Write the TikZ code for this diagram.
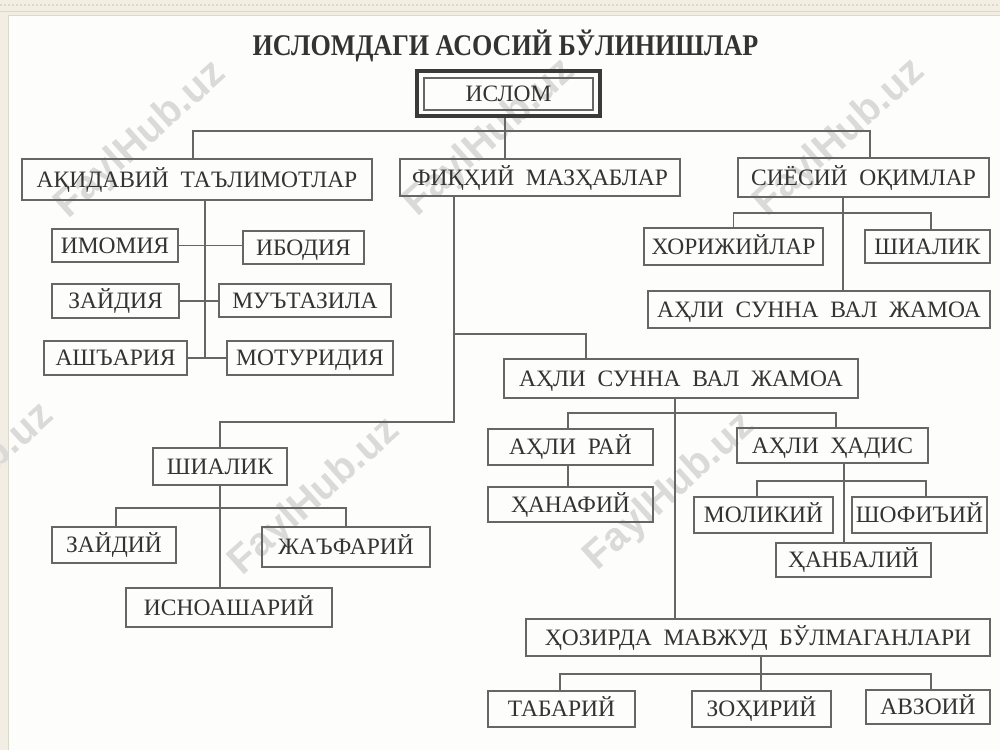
\documentclass[tikz,border=0pt]{standalone}
\usepackage{fontspec}
\usepackage{graphicx}
\usetikzlibrary{calc}
\setmainfont{Liberation Serif}
\newfontfamily\boxfont{Liberation Serif}
\newfontfamily\titlefont{Liberation Serif Bold}
\newfontfamily\wmfont{Liberation Sans Bold}
\definecolor{paper}{HTML}{F2EEE3}
\definecolor{sheet}{HTML}{FDFDFB}
\definecolor{rim}{HTML}{E0D8C6}
\definecolor{txtc}{HTML}{333333}
\definecolor{linec}{HTML}{666666}
\definecolor{framec}{HTML}{3A3A3A}
\definecolor{wmc}{HTML}{DADADA}
\tikzset{
  bx/.style={draw=linec, line width=1.1pt, inner sep=0pt, text=txtc,
    text height=15.5pt, text depth=0pt,
    font=\boxfont\fontsize{23.5}{26}\selectfont},
  conn/.style={draw=linec, line width=1.1pt},
  wm/.style={text=wmc, font=\wmfont\fontsize{40}{44}\selectfont, rotate=42, inner sep=0pt}
}
\begin{document}
\begin{tikzpicture}[x=1pt,y=-1pt]
\useasboundingbox (0,0) rectangle (1000,750);
% background
\fill[paper] (0,0) rectangle (1000,750);
\fill[sheet] (8,15) rectangle (1000,750);
\draw[rim, line width=0.8pt] (0,11) -- (1000,11);
\draw[rim, line width=1pt] (8,15) -- (1000,15);
\draw[rim, line width=1pt] (8,15) -- (8,750);
\draw[rim, line width=2pt, dotted] (0,5) -- (1000,5);
% watermarks
\node[wm] (w1) at (141,140) {FaylHub.uz};
\node[wm] (w2) at (490,138) {FaylHub.uz};
\node[wm] (w3) at (840,138) {FaylHub.uz};
\node[wm] (w4) at (-31,482) {FaylHub.uz};
\node[wm] (w5) at (315,497) {FaylHub.uz};
\node[wm] (w6) at (670,492) {FaylHub.uz};
% title
\node[text=txtc, inner sep=0pt, anchor=base] (title) at (505.5,55)
  {\scalebox{0.87}[1]{\titlefont\fontsize{30}{32}\selectfont ИСЛОМДАГИ АСОСИЙ БЎЛИНИШЛАР}};
% root
\node[draw=framec, line width=4pt, minimum width=183pt, minimum height=45pt, inner sep=0pt] (islamframe) at (508.5,93.5) {};
\node[bx, minimum width=169pt, minimum height=32pt] (islam) at (508.5,94) {ИСЛОМ};
% level 1
\node[bx, minimum width=350pt, minimum height=41pt] (aqida) at (197,179.5) {АҚИДАВИЙ \ ТАЪЛИМОТЛАР};
\node[bx, minimum width=280pt, minimum height=37pt] (fiqh) at (540,177.5) {ФИҚҲИЙ \ МАЗҲАБЛАР};
\node[bx, minimum width=251pt, minimum height=39pt] (siyosiy) at (863.5,177.5) {СИЁСИЙ \ ОҚИМЛАР};
% aqida children
\node[bx, minimum width=126pt, minimum height=33pt] (imomiya) at (115,245.5) {ИМОМИЯ};
\node[bx, minimum width=121pt, minimum height=33pt] (ibodiya) at (303.5,247.5) {ИБОДИЯ};
\node[bx, minimum width=127pt, minimum height=34pt] (zaydiya) at (115.5,301) {ЗАЙДИЯ};
\node[bx, minimum width=172pt, minimum height=33pt] (mutazila) at (305,300.5) {МУЪТАЗИЛА};
\node[bx, minimum width=143pt, minimum height=34pt] (ashariya) at (115.5,358) {АШЪАРИЯ};
\node[bx, minimum width=166pt, minimum height=34pt] (moturidiya) at (310,358) {МОТУРИДИЯ};
% siyosiy children
\node[bx, minimum width=179pt, minimum height=37pt] (horij) at (733.5,246.5) {ХОРИЖИЙЛАР};
\node[bx, minimum width=125pt, minimum height=33pt] (shia2) at (927.5,246.5) {ШИАЛИК};
\node[bx, minimum width=342pt, minimum height=37pt] (ahli2) at (819,309.5) {АҲЛИ \ СУННА \ ВАЛ \ ЖАМОА};
% fiqh children
\node[bx, minimum width=354pt, minimum height=39pt] (ahli1) at (681,378.5) {АҲЛИ \ СУННА \ ВАЛ \ ЖАМОА};
\node[bx, minimum width=134pt, minimum height=37pt] (shia1) at (220,466.5) {ШИАЛИК};
% shia1 children
\node[bx, minimum width=124pt, minimum height=36pt] (zaydiy) at (114,545) {ЗАЙДИЙ};
\node[bx, minimum width=168pt, minimum height=40pt] (jafariy) at (346,547) {ЖАЪФАРИЙ};
\node[bx, minimum width=206pt, minimum height=39pt] (isno) at (229,607.5) {ИСНОАШАРИЙ};
% ahli1 children
\node[bx, minimum width=165pt, minimum height=36pt] (ray) at (570.5,447) {АҲЛИ \ РАЙ};
\node[bx, minimum width=191pt, minimum height=35pt] (hadis) at (832.5,445.5) {АҲЛИ \ ҲАДИС};
\node[bx, minimum width=165pt, minimum height=35pt] (hanafiy) at (570.5,504.5) {ҲАНАФИЙ};
\node[bx, minimum width=139pt, minimum height=36pt] (molikiy) at (763.5,515) {МОЛИКИЙ};
\node[bx, minimum width=135pt, minimum height=36pt] (shofiiy) at (919.5,515) {ШОФИЪИЙ};
\node[bx, minimum width=155pt, minimum height=34pt] (hanbaliy) at (853.5,560) {ҲАНБАЛИЙ};
\node[bx, minimum width=464pt, minimum height=37pt] (hozir) at (758,637.5) {ҲОЗИРДА \ МАВЖУД \ БЎЛМАГАНЛАРИ};
\node[bx, minimum width=147pt, minimum height=36pt] (tabariy) at (561.5,709) {ТАБАРИЙ};
\node[bx, minimum width=139pt, minimum height=36pt] (zohiriy) at (761.5,709) {ЗОҲИРИЙ};
\node[bx, minimum width=124pt, minimum height=34pt] (avzoiy) at (928,707) {АВЗОИЙ};
% junction coordinates
\coordinate (top) at (505,131);
\coordinate (aqv) at (205,358);
\coordinate (fq1) at (454,422);
\coordinate (fq2) at (454,334);
\coordinate (fq3) at (586,334);
\coordinate (sy) at (843,213);
\coordinate (s1) at (220,508);
\coordinate (a1) at (675,413);
\coordinate (h1) at (844,481);
\coordinate (hz) at (761,674);
% connectors
\draw[conn] (islamframe.south -| top) -- (top |- fiqh.north);
\draw[conn] ($(aqida.north)+(-4,0)$) |- (top) -| ($(siyosiy.north)+(6.5,0)$);
\draw[conn] (aqida.south -| aqv) -- (aqv);
\draw[conn] (imomiya.east) -- (imomiya.east -| ibodiya.west);
\draw[conn] (zaydiya.east) -- (zaydiya.east -| mutazila.west);
\draw[conn] (ashariya.east) -- (ashariya.east -| moturidiya.west);
\draw[conn] (fiqh.south -| fq1) -- (fq1) -| (shia1.north);
\draw[conn] (fq2) -- (fq3) -- (fq3 |- ahli1.north);
\draw[conn] (siyosiy.south -| sy) -- (sy |- ahli2.north);
\draw[conn] (horij.north) |- (sy) -| ($(shia2.north)+(3.5,0)$);
\draw[conn] (shia1.south) -- (shia1.south |- isno.north);
\draw[conn] ($(zaydiy.north)+(2,0)$) |- (s1) -| (jafariy.north);
\draw[conn] (ahli1.south -| a1) -- (a1 |- hozir.north);
\draw[conn] ($(ray.north)+(-2.5,0)$) |- (a1) -| ($(hadis.north)+(3.5,0)$);
\draw[conn] ($(ray.south)+(-2.5,0)$) -- ($(hanafiy.north)+(-2.5,0)$);
\draw[conn] (hadis.south -| h1) -- (h1 |- hanbaliy.north);
\draw[conn] ($(molikiy.north)+(-6.5,0)$) |- (h1) -| ($(shofiiy.north)+(6.5,0)$);
\draw[conn] (hozir.south -| hz) -- (hz |- zohiriy.north);
\draw[conn] ($(tabariy.north)+(-1.5,0)$) |- (hz) -| ($(avzoiy.north)+(3,0)$);
\end{tikzpicture}
\end{document}
